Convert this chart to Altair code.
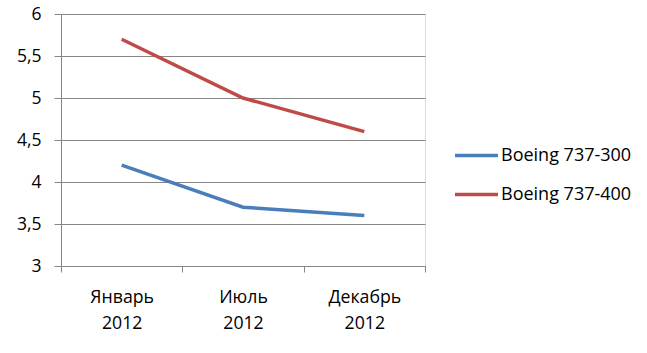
import altair as alt
import pandas as pd

months = ["Январь 2012", "Июль 2012", "Декабрь 2012"]
series_names = ["Boeing 737-300", "Boeing 737-400"]
b300 = [4.2, 3.7, 3.6]
b400 = [5.7, 5.0, 4.6]
colors = ["#4A7EBB", "#BE4B48"]

rows = []
for m, v in zip(months, b300):
    rows.append({"month": m, "series": series_names[0], "value": v})
for m, v in zip(months, b400):
    rows.append({"month": m, "series": series_names[1], "value": v})
df = pd.DataFrame(rows)

FONT = "Open Sans"
GRAY = "#868686"

chart = alt.Chart(df).mark_line(strokeWidth=3.5).encode(
    x=alt.X("month:N", sort=months, title=None,
            scale=alt.Scale(paddingInner=0, paddingOuter=0),
            axis=alt.Axis(labelAngle=0, labelExpr="split(datum.label, ' ')",
                          labelFontSize=17.7, labelFont=FONT, labelColor="#000000",
                          labelLineHeight=26, labelPadding=16,
                          tickBand="extent", tickSize=6, tickColor=GRAY,
                          domainColor=GRAY, grid=False)),
    y=alt.Y("value:Q", title=None,
            scale=alt.Scale(domain=[3, 6], nice=False, zero=False),
            axis=alt.Axis(values=[3, 3.5, 4, 4.5, 5, 5.5, 6],
                          labelExpr="replace(format(datum.value, '.1~f'), '.', ',')",
                          labelFontSize=17.5, labelFont=FONT, labelColor="#000000",
                          labelPadding=13, tickSize=7, tickColor=GRAY,
                          domainColor=GRAY, gridColor=GRAY, grid=True)),
    color=alt.Color("series:N", sort=series_names,
                    scale=alt.Scale(domain=series_names, range=colors),
                    legend=alt.Legend(title=None, orient="none", legendX=392, legendY=118,
                                      symbolType="stroke", symbolSize=1849,
                                      symbolStrokeWidth=3.5, labelFont=FONT,
                                      labelFontSize=18, labelColor="#000000",
                                      labelOffset=1, rowPadding=6, padding=0)),
).properties(
    width=364, height=252,
    padding={"left": 61, "top": 14, "right": 222, "bottom": 87},
    autosize=alt.AutoSizeParams(type="none"),
).configure_view(stroke=None).configure(background="#ffffff")

chart.save("out.html", embed_options={"renderer": "svg", "actions": False})
